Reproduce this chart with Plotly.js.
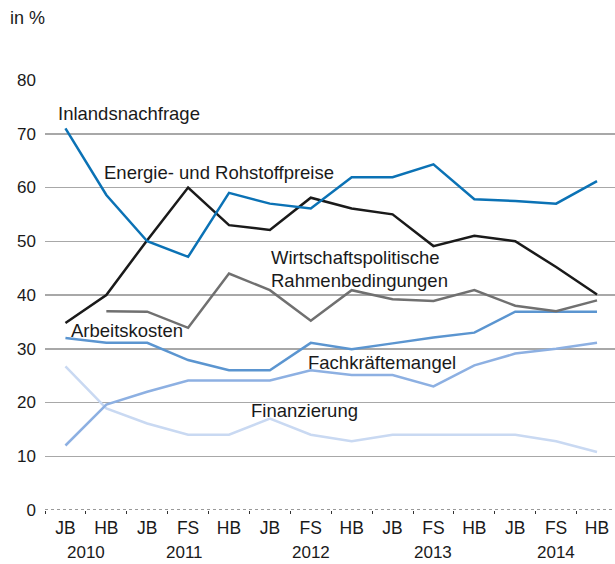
<!DOCTYPE html>
<html>
<head>
<meta charset="utf-8">
<script src="https://cdn.plot.ly/plotly-3.0.1.min.js"></script>
<style>html,body{margin:0;padding:0;background:#fff;}#chart{width:615px;height:564px;}</style>
</head>
<body>
<div id="chart"></div>
<script>
const periods = ["JB","HB","JB","FS","HB","JB","FS","HB","JB","FS","HB","JB","FS","HB"];
const years   = ["2010","2010","2011","2011","2011","2012","2012","2012","2013","2013","2013","2014","2014","2014"];

const inlandsnachfrage = [71, 58.6, 50, 47.1, 59, 57, 56.1, 61.9, 61.9, 64.3, 57.8, 57.5, 57, 61.2];
const energie          = [34.8, 40, 50.2, 60, 53, 52.1, 58.1, 56.1, 55, 49.1, 51, 50, 45.2, 40.1];
const wirtschaft       = [null, 37, 36.9, 33.9, 44, 40.9, 35.2, 40.9, 39.2, 38.9, 40.9, 38, 37, 39];
const arbeitskosten    = [32, 31.1, 31.1, 27.9, 26, 26, 31.1, 29.9, 31, 32.1, 33, 36.9, 36.9, 36.9];
const fachkraefte      = [12, 19.6, 22, 24.1, 24.1, 24.1, 26, 25.1, 25.1, 23, 26.9, 29.1, 30, 31.1];
const finanzierung     = [26.7, 18.9, 16.1, 14, 14, 17, 14, 12.8, 14, 14, 14, 14, 12.8, 10.8];

const yearLabels = ["2010","2011","2012","2013","2014"];
const yearCenters = [0.5, 2.9, 6, 9, 12];
const yTicks = [0,10,20,30,40,50,60,70,80];

const cats = periods.map((p,i)=> p + " " + years[i]);

const FONT = "Liberation Sans, Arial, Helvetica, sans-serif";
const W = 2.5;
function tr(y, color){
  return {type:"scatter", mode:"lines", x:cats, y:y, line:{color:color, width:W}, hoverinfo:"skip", connectgaps:false, showlegend:false};
}
const data = [
  tr(finanzierung, "#c9d9f2"),
  tr(fachkraefte, "#8db0e2"),
  tr(arbeitskosten, "#5b95d0"),
  tr(wirtschaft, "#707070"),
  tr(energie, "#1a1a1a"),
  tr(inlandsnachfrage, "#0b72b5")
];

const LS = 18.5;
function lab(text, x, y){
  return {text:text, x:x, y:y, xref:"x", yref:"y", xanchor:"left", yanchor:"middle", showarrow:false, font:{family:FONT, size:LS, color:"#1a1a1a"}};
}
const annotations = [
  lab("Inlandsnachfrage", -0.24, 73.7),
  lab("Energie- und Rohstoffpreise", 0.89, 62.7),
  lab("Wirtschaftspolitische", 4.97, 47.0),
  lab("Rahmenbedingungen", 4.97, 42.7),
  lab("Arbeitskosten", 0.08, 33.4),
  lab("Fachkräftemangel", 5.88, 27.5),
  lab("Finanzierung", 4.48, 18.6),
  {text:"in %", xref:"paper", yref:"paper", x:-0.065, y:1.144, xanchor:"left", yanchor:"middle", showarrow:false, font:{family:FONT, size:18, color:"#1a1a1a"}}
];
yearLabels.forEach((t,i)=>{
  annotations.push({text:t, x:yearCenters[i], xref:"x", yref:"paper", y:-0.098, xanchor:"center", yanchor:"middle", showarrow:false, font:{family:FONT, size:17, color:"#1a1a1a"}});
});

const layout = {
  width:615, height:564,
  margin:{l:45, r:0, t:80, b:54},
  paper_bgcolor:"#fff", plot_bgcolor:"#fff",
  font:{family:FONT, size:16, color:"#1a1a1a"},
  xaxis:{
    type:"category", range:[-0.5, 13.44],
    tickmode:"array", tickvals:cats, ticktext:periods,
    tickson:"boundaries", ticks:"outside", ticklen:3, tickcolor:"#333", tickwidth:1,
    ticklabelstandoff:5,
    showgrid:false, zeroline:false, showline:false, fixedrange:true,
    tickfont:{family:FONT, size:17.5, color:"#1a1a1a"}
  },
  yaxis:{
    range:[0,80], tickmode:"array", tickvals:yTicks,
    showgrid:true, gridcolor:"#a8a8a8", gridwidth:1.5,
    zeroline:false, showline:false, ticks:"", fixedrange:true,
    ticklabelstandoff:8,
    tickfont:{family:FONT, size:17, color:"#1a1a1a"}
  },
  shapes:[
    {type:"line", xref:"paper", yref:"y", x0:0, x1:1, y0:0, y1:0, line:{color:"#ffffff", width:3}, layer:"above"},
    {type:"line", xref:"paper", yref:"y", x0:0, x1:1, y0:0, y1:0, line:{color:"#333333", width:1, dash:"dot"}, layer:"above"}
  ],
  annotations:annotations
};
Plotly.newPlot("chart", data, layout, {staticPlot:true, displayModeBar:false});
</script>
</body>
</html>
